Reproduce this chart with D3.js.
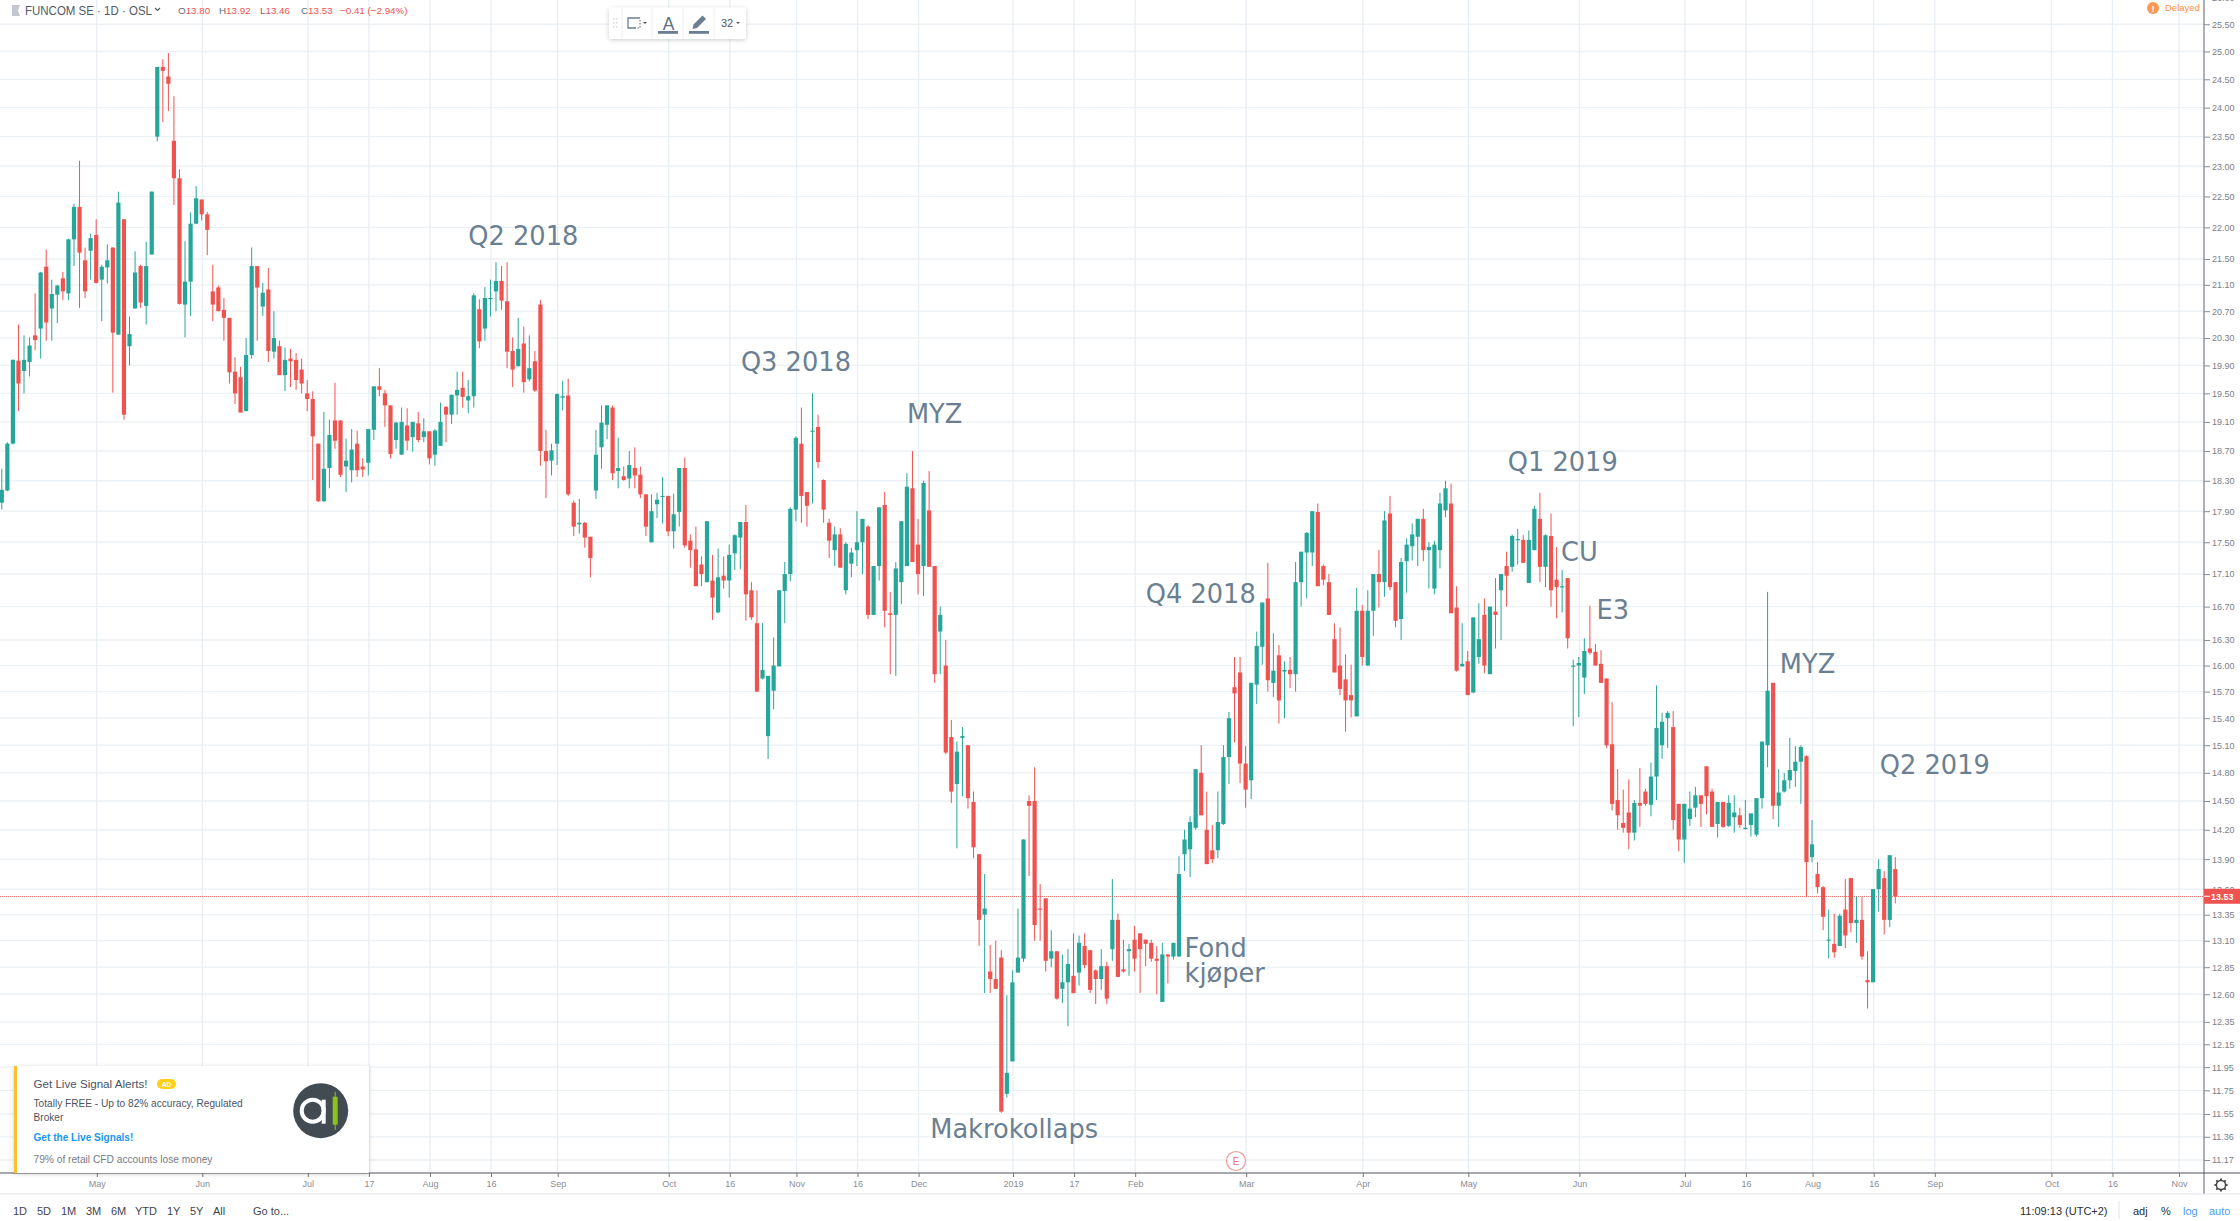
<!DOCTYPE html>
<html><head><meta charset="utf-8">
<script src="https://cdn.jsdelivr.net/npm/d3@7/dist/d3.min.js"></script>
<style>html,body{margin:0;padding:0;background:#fff;overflow:hidden}svg{display:block}</style></head>
<body><svg id="c" width="2240" height="1221"></svg>
<script>
const opens=[18.01,18.17,18.8,19.97,19.82,19.95,20.34,20.44,21.38,20.74,
20.95,21.2,20.97,21.81,22.33,21.48,21.63,21.88,21.18,21.37,
21.68,20.35,22.13,20.18,20.74,21.39,20.78,21.57,23.5,24.72,
24.55,23.43,22.8,20.8,21.15,22.06,22.45,22.21,21.0,21.06,
20.72,20.6,19.81,19.73,19.25,20.05,21.39,20.77,21.03,20.1,
20.18,19.76,20.0,19.98,19.84,19.5,19.42,18.8,18.03,18.47,
19.12,19.12,18.49,18.44,18.8,18.49,18.54,18.99,19.6,19.5,
19.33,18.85,18.65,19.05,18.89,19.08,18.89,18.97,18.65,18.77,
19.31,19.2,19.47,19.58,19.4,19.46,20.73,20.44,20.89,21.0,
21.16,20.85,20.11,19.89,20.22,19.7,19.96,20.8,18.7,18.57,
18.8,19.44,19.47,18.01,17.73,17.75,17.57,18.17,18.75,19.06,
19.3,18.43,18.36,18.33,18.47,18.38,18.12,17.5,17.99,18.09,
18.1,17.64,17.89,18.47,17.52,17.41,17.22,17.0,17.02,16.63,
17.08,17.02,17.36,17.56,17.76,16.9,16.5,15.85,15.2,15.71,
15.99,16.89,17.1,17.92,18.8,18.15,18.97,19.03,18.31,17.75,
17.4,17.6,16.9,17.23,17.4,17.5,17.7,16.6,17.2,17.98,
16.62,16.6,17.0,17.2,18.2,17.47,17.2,17.91,17.2,16.4,
16.0,15.19,14.68,15.18,15.1,14.49,13.95,13.35,12.81,12.74,
12.94,11.72,12.0,12.8,12.93,14.5,14.5,13.41,13.51,12.93,
13.0,12.65,12.71,12.77,12.8,13.05,13.01,12.82,12.74,12.86,
13.02,13.3,12.83,13.0,13.11,13.17,13.11,13.08,12.93,12.53,
12.97,12.95,12.95,13.95,14.0,14.22,14.8,14.2,13.99,13.99,
14.26,14.97,15.75,15.92,14.9,14.72,15.78,16.22,16.8,15.8,
16.12,15.93,15.95,15.9,17.0,17.37,17.37,17.89,17.2,17.0,
16.31,16.0,15.84,15.66,15.42,16.65,16.0,16.65,17.1,17.0,
17.87,17.0,16.55,17.26,17.45,17.57,17.8,17.4,16.92,17.4,
17.91,18.0,16.69,15.99,16.05,15.69,16.1,16.6,15.9,16.64,
16.9,17.2,17.19,17.53,17.53,16.99,17.4,17.8,17.19,17.58,
17.03,16.94,17.05,15.99,16.0,15.86,16.2,16.16,16.02,15.85,
15.11,14.51,14.27,14.38,14.17,14.48,14.6,14.46,14.76,15.1,
15.4,15.3,14.47,14.1,14.31,14.43,14.56,14.87,14.6,14.26,
14.49,14.24,14.33,14.35,14.21,14.25,14.15,14.53,15.1,15.8,
14.45,14.6,14.72,14.82,14.92,14.98,13.92,13.75,13.62,13.1,
13.07,13.05,13.4,13.71,13.27,13.3,12.73,12.71,13.6,13.71,13.3,13.8];
const closes=[18.18,18.8,19.98,19.64,19.98,20.19,20.27,21.29,20.53,20.96,
21.09,21.0,21.81,22.33,21.6,21.0,21.83,21.13,21.38,21.48,
20.38,22.4,19.2,20.36,21.29,20.83,21.39,22.58,24.72,24.65,
24.42,22.8,20.81,21.15,22.06,22.47,22.21,21.96,20.8,20.7,
20.6,19.8,19.5,19.23,20.05,21.39,21.06,20.98,20.11,20.3,
19.76,19.98,19.96,19.69,19.64,19.42,18.9,18.03,18.46,18.92,
18.84,18.38,18.57,18.72,18.44,18.45,19.0,19.6,19.55,19.33,
18.66,19.09,19.1,18.84,19.1,18.85,18.97,18.6,18.98,19.1,
19.2,19.48,19.55,19.45,19.46,20.94,20.25,20.9,20.9,21.16,
20.86,20.1,19.84,20.14,19.66,19.86,19.54,18.7,18.56,18.71,
19.49,19.46,18.12,17.7,17.75,17.56,17.3,18.65,19.09,19.33,
18.4,18.47,18.31,18.51,18.37,18.12,17.7,17.9,18.05,18.1,
17.64,17.86,18.47,17.46,17.4,16.95,17.1,17.77,16.81,17.06,
17.02,17.34,17.59,17.76,16.85,16.57,15.7,15.95,15.88,16.0,
16.9,17.1,17.93,18.88,18.1,17.97,18.98,18.55,17.92,17.52,
17.6,17.18,17.48,17.37,17.5,17.8,16.6,17.2,17.95,16.65,
16.6,17.17,17.77,18.22,17.25,17.1,18.27,17.19,15.9,16.6,
15.02,14.6,15.03,15.2,14.53,14.02,13.3,13.41,12.74,12.65,
11.57,11.9,12.71,12.94,14.1,14.45,13.25,13.4,12.91,13.0,
12.56,12.71,12.88,12.61,13.08,12.87,12.64,12.74,12.86,12.56,
13.3,12.76,12.81,13.02,12.93,13.02,13.07,12.93,12.91,12.97,
12.95,13.08,13.75,14.1,14.28,14.84,14.35,13.85,13.9,14.28,
14.97,15.4,15.68,14.9,14.62,15.8,16.23,16.75,15.83,15.94,
15.6,15.95,15.9,17.0,17.38,17.62,17.9,16.95,17.03,16.6,
15.92,15.73,15.6,15.6,16.65,16.1,16.65,17.1,17.0,17.78,
16.94,16.53,17.25,17.47,17.6,17.8,17.4,17.44,17.47,18.0,
18.2,16.62,15.94,16.02,15.66,16.57,16.31,16.0,16.7,16.6,
17.1,17.08,17.58,17.54,17.24,17.53,17.93,17.19,17.59,16.9,
16.94,16.95,16.32,16.0,16.03,16.17,16.15,16.0,15.8,15.1,
14.47,14.35,14.22,14.17,14.48,14.45,14.47,14.76,15.29,15.36,
15.46,14.3,14.1,14.47,14.42,14.56,14.47,14.55,14.23,14.49,
14.23,14.48,14.38,14.25,14.22,14.37,14.53,15.14,15.71,14.45,
14.59,14.72,14.83,14.92,15.08,13.87,14.05,13.62,13.33,13.11,
12.99,13.34,13.15,13.27,13.3,12.95,12.71,13.6,13.8,13.3,13.94,13.53];
const highs=[18.46,18.82,19.99,20.5,20.34,20.31,20.97,21.3,21.65,21.18,
21.1,21.3,21.82,22.38,23.09,21.68,21.9,22.13,21.41,21.73,
21.68,22.58,22.13,20.62,21.62,21.41,21.77,22.58,24.72,24.86,
24.97,24.2,22.95,21.78,22.24,22.67,22.45,22.25,21.41,21.09,
20.9,20.6,20.02,19.88,20.3,21.68,21.39,21.13,21.36,20.7,
20.26,20.16,20.14,20.08,20.0,19.69,19.53,18.8,19.24,19.13,
19.65,19.12,18.87,19.0,18.98,18.6,19.0,19.6,19.86,19.55,
19.33,19.1,19.3,19.29,19.1,19.24,19.15,18.97,19.0,19.37,
19.32,19.48,19.81,19.81,19.69,20.97,20.88,21.07,21.18,21.45,
21.39,21.45,20.31,20.6,20.47,20.34,20.11,20.87,18.99,18.8,
19.5,19.68,19.71,18.04,18.06,17.76,17.57,18.99,19.33,19.33,
19.33,18.88,18.49,18.7,18.75,18.49,18.12,18.12,18.14,18.35,
18.1,18.13,18.47,18.61,17.6,17.7,17.32,17.77,17.34,17.42,
17.32,17.47,17.6,17.76,17.98,17.0,16.9,16.5,15.88,16.33,
16.9,17.25,17.95,18.9,19.3,18.15,19.5,19.2,18.32,17.8,
17.7,17.68,17.5,17.43,17.9,17.8,17.72,17.2,17.95,18.15,
16.88,17.25,17.77,18.4,18.7,17.8,18.3,18.43,17.2,16.7,
16.3,15.38,15.14,15.3,15.1,14.6,13.95,13.75,13.06,13.1,
13.01,12.59,12.82,13.41,14.1,14.56,14.86,13.65,13.51,13.2,
13.0,12.97,13.02,13.17,13.15,13.17,13.01,12.83,13.02,12.9,
13.7,13.36,13.11,13.07,13.24,13.17,13.11,13.11,13.05,13.08,
12.97,13.08,13.93,14.2,14.34,14.84,15.1,14.6,14.25,14.6,
15.1,15.47,16.1,16.1,15.09,15.8,16.4,16.75,17.24,16.38,
16.24,16.05,16.1,17.25,17.38,17.63,17.9,18.0,17.22,17.1,
16.5,16.45,16.13,16.01,16.93,16.72,16.9,17.1,17.4,17.9,
18.1,17.0,17.3,17.55,17.74,17.8,17.93,17.5,17.52,18.14,
18.3,18.26,16.95,16.5,16.17,16.57,16.74,16.8,16.7,17.05,
17.1,17.38,17.6,17.67,17.59,17.65,17.97,18.14,17.6,17.87,
17.44,17.15,17.05,16.07,16.1,16.32,16.71,16.25,16.18,15.85,
15.58,14.84,14.62,14.73,14.51,14.85,14.63,14.91,15.77,15.46,
15.48,15.48,14.47,14.47,14.6,14.65,14.56,14.87,14.63,14.49,
14.49,14.56,14.56,14.43,14.51,14.37,14.53,15.14,16.88,15.8,
14.84,14.8,15.18,15.09,15.1,14.99,14.3,13.87,13.63,13.4,
13.36,13.36,13.7,13.71,13.53,13.52,13.0,13.6,13.9,13.78,13.94,13.92];
const lows=[17.92,18.16,18.79,19.25,19.5,19.74,20.12,20.0,20.26,20.26,
20.52,20.87,20.87,21.39,20.75,20.9,21.18,21.12,20.55,21.12,
19.51,20.35,19.13,19.9,20.74,20.75,20.5,21.57,23.42,23.75,
23.94,22.36,20.8,20.31,20.63,22.05,22.11,21.56,20.55,20.7,
20.26,19.64,19.35,19.23,19.25,20.0,20.26,20.63,19.95,20.0,
19.76,19.53,19.59,19.55,19.5,19.25,18.31,18.02,18.02,18.2,
18.73,18.35,18.15,18.28,18.35,18.35,18.37,18.85,19.46,19.03,
18.6,18.73,18.65,18.71,18.69,18.82,18.82,18.52,18.5,18.77,
18.82,19.07,19.2,19.3,19.22,19.3,20.15,20.26,20.62,20.7,
20.72,19.86,19.59,19.88,19.51,19.67,19.52,18.5,18.07,18.37,
18.51,19.26,18.1,17.58,17.61,17.43,17.06,18.06,18.46,18.86,
18.31,18.2,18.3,18.2,18.2,18.07,17.58,17.5,17.81,17.74,
17.58,17.42,17.7,17.43,17.18,16.95,16.95,17.0,16.54,16.62,
16.92,16.81,17.15,17.16,16.53,16.54,15.7,15.84,14.95,15.5,
15.99,16.5,17.01,17.77,17.75,17.7,18.0,18.47,17.75,17.3,
17.2,17.18,16.85,17.06,17.2,17.1,16.55,16.6,17.02,16.45,
15.9,15.88,16.73,17.2,17.25,16.85,16.83,17.19,15.8,15.9,
15.0,14.48,14.01,14.55,14.42,13.91,13.05,12.61,12.61,12.65,
11.56,11.69,12.0,12.8,12.9,13.73,13.1,13.1,12.81,12.85,
12.55,12.52,12.31,12.61,12.68,12.84,12.61,12.51,12.64,12.51,
12.91,12.76,12.8,12.77,12.81,12.61,12.86,12.9,12.6,12.53,
12.7,12.92,12.95,13.78,13.72,14.2,14.35,13.85,13.86,13.91,
14.25,14.68,15.13,14.69,14.43,14.52,15.56,16.01,15.7,15.64,
15.34,15.4,15.74,15.7,16.7,16.8,17.2,16.95,16.96,16.6,
15.92,15.66,15.25,15.41,15.42,16.0,16.0,16.35,16.69,16.82,
16.9,16.45,16.3,16.87,17.27,17.2,17.26,16.92,16.85,17.17,
17.82,16.62,15.93,15.99,15.66,15.68,16.02,15.91,15.9,16.2,
16.3,16.7,17.13,17.22,17.24,16.99,17.4,17.0,16.94,16.7,
16.56,16.63,16.2,15.31,15.41,15.67,16.13,16.0,15.8,15.07,
14.4,14.2,14.17,14.0,14.09,14.23,14.45,14.34,14.51,14.95,
15.07,14.2,13.98,13.86,14.24,14.33,14.23,14.36,14.23,14.12,
14.22,14.23,14.17,14.22,14.2,14.13,14.13,14.42,14.86,14.31,
14.23,14.59,14.63,14.65,14.47,13.52,13.87,13.56,13.2,12.93,
12.94,13.05,13.03,13.18,13.08,12.92,12.47,12.71,13.38,13.16,13.23,13.46];

const priceTicks=[26,25.5,25,24.5,24,23.5,23,22.5,22,21.5,21.1,20.7,20.3,19.9,19.5,19.1,18.7,18.3,17.9,17.5,17.1,16.7,16.3,16,15.7,15.4,15.1,14.8,14.5,14.2,13.9,13.6,13.35,13.1,12.85,12.6,12.35,12.15,11.95,11.75,11.55,11.36,11.17];
const timeBars=[17,36,55,66,77,88,100,120,131,143,154,165,182,193,204,224,245,264,284,303,314,326,337,348,369,380,392];
const timeLabels=["May","Jun","Jul","17","Aug","16","Sep","Oct","16","Nov","16","Dec","2019","17","Feb","Mar","Apr","May","Jun","Jul","16","Aug","16","Sep","Oct","16","Nov"];
const noteText=["Q2 2018","Q3 2018","MYZ","Q4 2018","Q1 2019","CU","E3","MYZ","Q2 2019","Fond","kjøper","Makrokollaps"];
const noteBar=[84,133.1,163,206,271.2,280.8,287.2,320.2,338.2,213,213,167.2];
const notePrice=[21.72,19.82,19.08,16.75,18.43,17.26,16.55,15.91,14.79,12.95,12.71,11.35];
const quote={o:13.80,h:13.92,l:13.46,c:13.53};
const rangeButtons=["1D","5D","1M","3M","6M","YTD","1Y","5Y","All"];
const rangeX=[13,37,61,86,111,135,167,190,213];

const GREEN="#26a69a",RED="#ef5350",GRID="#ecf1f5";
const R=2204,B=1173;
const svg=d3.select("#c");
const x=d3.scaleLinear().domain([0,341]).range([1.8,1895.3]);
const y=d3.scaleLog().domain([25,11.17]).range([51.5,1160]);
const data=opens.map((o,i)=>({i,o,h:highs[i],l:lows[i],c:closes[i]}));

const defs=svg.append("defs");
const sh=defs.append("filter").attr("id","sh").attr("x","-10%").attr("y","-20%").attr("width","120%").attr("height","140%");
sh.append("feDropShadow").attr("dx",0).attr("dy",1).attr("stdDeviation",2).attr("flood-color","#000").attr("flood-opacity",.2);
defs.append("clipPath").attr("id","plot").append("rect").attr("width",R).attr("height",B);

// grid
const g=svg.append("g").attr("clip-path","url(#plot)");
g.selectAll(".gh").data(priceTicks).join("line").attr("x1",0).attr("x2",R)
 .attr("y1",d=>y(d)).attr("y2",d=>y(d)).attr("stroke",GRID).attr("stroke-width",1.3);
g.selectAll(".gv").data(timeBars).join("line").attr("y1",0).attr("y2",B)
 .attr("x1",d=>x(d)+.6).attr("x2",d=>x(d)+.6).attr("stroke","#e8eff4").attr("stroke-width",1.3);

// last price line
g.append("line").attr("x1",0).attr("x2",R).attr("y1",896.5).attr("y2",896.5)
 .attr("stroke",RED).attr("stroke-width",1).attr("stroke-dasharray","1 1").attr("shape-rendering","crispEdges").attr("opacity",.8);

// candles
const col=d=>d.c>=d.o?GREEN:RED;
const candles=g.append("g");
candles.selectAll("line").data(data).join("line")
 .attr("x1",d=>x(d.i)).attr("x2",d=>x(d.i)).attr("y1",d=>y(d.h)).attr("y2",d=>y(d.l))
 .attr("stroke",col).attr("stroke-width",1);
candles.selectAll("rect").data(data).join("rect")
 .attr("x",d=>x(d.i)-2.1).attr("width",4.2)
 .attr("y",d=>y(Math.max(d.o,d.c)))
 .attr("height",d=>Math.max(1.2,y(Math.min(d.o,d.c))-y(Math.max(d.o,d.c))))
 .attr("fill",col);

// annotations
g.selectAll(".note").data(noteText).join("text")
 .attr("x",(d,i)=>x(noteBar[i])).attr("y",(d,i)=>y(notePrice[i]))
 .attr("font-family","DejaVu Sans").attr("font-size",25.7).attr("fill","#6b7f92").text(d=>d);

// earnings marker
const em=svg.append("g").attr("transform",`translate(1236,1161)`);
em.append("circle").attr("r",9.5).attr("fill","#fff").attr("stroke","#ef9a9a").attr("stroke-width",1.2);
em.append("text").attr("text-anchor","middle").attr("y",3.5).attr("font-family","Liberation Sans").attr("font-size",10).attr("fill","#e57373").text("E");

// axes
const ya=d3.axisRight(y).tickValues(priceTicks).tickSize(6).tickPadding(2).tickFormat(d3.format(".2f"));
const yg=svg.append("g").attr("transform",`translate(${R},0)`).call(ya);
yg.select(".domain").attr("stroke","#787b86").attr("stroke-width",1.2).attr("d",`M0,0V1194`);
yg.selectAll(".tick line").attr("stroke","#8a8d96");
yg.selectAll(".tick text").attr("font-family","Liberation Sans").attr("font-size",9).attr("fill","#7b7e88");

const xa=d3.axisBottom(x).tickValues(timeBars).tickSize(4).tickPadding(4).tickFormat((d,i)=>timeLabels[i]);
const xg=svg.append("g").attr("transform",`translate(0.6,${B})`).call(xa);
xg.select(".domain").attr("stroke","#50535e").attr("stroke-width",1).attr("d",`M-1,0H2240`);
xg.selectAll(".tick line").attr("stroke","#777");
xg.selectAll(".tick text").attr("font-family","Liberation Sans").attr("font-size",9).attr("fill","#8a8d96");

// last price tag
svg.append("rect").attr("x",R).attr("y",y(quote.c)-7.5).attr("width",36).attr("height",15).attr("fill",RED);
svg.append("line").attr("x1",R).attr("x2",R+6).attr("y1",y(quote.c)).attr("y2",y(quote.c)).attr("stroke","#fff");
svg.append("text").attr("x",R+7).attr("y",y(quote.c)+3.3).attr("font-family","Liberation Sans").attr("font-size",9).attr("font-weight",700).attr("fill","#fff").text(quote.c.toFixed(2));

// bottom bar
svg.append("rect").attr("x",0).attr("y",1195).attr("width",2240).attr("height",26).attr("fill","#fff");
svg.append("line").attr("x1",0).attr("x2",2240).attr("y1",1194).attr("y2",1194).attr("stroke","#e0e3eb");
const bt=(t,xx,c,w)=>svg.append("text").attr("x",xx).attr("y",1215).attr("font-family","Liberation Sans").attr("font-size",w||11).attr("fill",c||"#3f4450").text(t);
rangeButtons.forEach((t,i)=>bt(t,rangeX[i]));
bt("Go to...",253);
bt("11:09:13 (UTC+2)",2020,"#2a2e39",11);
svg.append("line").attr("x1",2119).attr("x2",2119).attr("y1",1201).attr("y2",1219).attr("stroke","#e0e3eb");
bt("adj",2133,"#2a2e39",11);bt("%",2161,"#2a2e39",11);bt("log",2183,"#4a9df0",11);bt("auto",2209,"#4a9df0",11);

// settings gear
const gear=svg.append("g").attr("transform","translate(2221,1185)");
gear.append("circle").attr("r",4.6).attr("fill","none").attr("stroke","#444").attr("stroke-width",1.5);
d3.range(8).forEach(k=>gear.append("line").attr("x1",0).attr("x2",0).attr("y1",-4.6).attr("y2",-6.6).attr("stroke","#444").attr("stroke-width",1.8).attr("transform",`rotate(${k*45})`));

// header
svg.append("path").attr("d","M12,5H20L18,10.5L20,16H12Z").attr("fill","#c5c7d0");
const hd=svg.append("g").attr("font-family","Liberation Sans");
hd.append("text").attr("x",25).attr("y",15).attr("font-size",13.5).attr("textLength",127).attr("lengthAdjust","spacingAndGlyphs").attr("fill","#555a66").text("FUNCOM SE · 1D · OSL");
hd.append("path").attr("d","M155,8l2.5,2.5l2.5,-2.5").attr("fill","none").attr("stroke","#555a66").attr("stroke-width",1.2);
const q=[["O",quote.o,178],["H",quote.h,219],["L",quote.l,260],["C",quote.c,301]];
q.forEach(([k,v,xx])=>{const t=hd.append("text").attr("x",xx).attr("y",14).attr("font-size",9.8).attr("fill","#666b78");
 t.append("tspan").text(k);t.append("tspan").attr("fill",RED).text(v.toFixed(2));});
hd.append("text").attr("x",340).attr("y",14).attr("font-size",9.8).attr("fill",RED).text("−0.41 (−2.94%)");

// delayed
svg.append("circle").attr("cx",2153).attr("cy",8).attr("r",6).attr("fill","#ff9850");
svg.append("text").attr("x",2153).attr("y",11.5).attr("text-anchor","middle").attr("font-family","Liberation Sans").attr("font-weight",700).attr("font-size",9.5).attr("fill","#fff").text("!");
svg.append("text").attr("x",2165).attr("y",11).attr("font-family","Liberation Sans").attr("font-size",9.5).attr("fill","#ff9040").text("Delayed");

// drawing toolbar
const tb=svg.append("g");
tb.append("rect").attr("x",609).attr("y",7.5).attr("width",137).attr("height",31.5).attr("rx",2).attr("fill","#fff").attr("filter","url(#sh)");
[622,652,683,714].forEach(xx=>tb.append("line").attr("x1",xx).attr("x2",xx).attr("y1",7.5).attr("y2",39).attr("stroke","#eef0f3"));
d3.range(3).forEach(r=>d3.range(2).forEach(c=>tb.append("rect").attr("x",613+c*3).attr("y",18+r*4).attr("width",1.5).attr("height",1.5).attr("fill","#d5d8de")));
tb.append("path").attr("d","M640,18H628V28H636").attr("fill","none").attr("stroke","#6b7f92").attr("stroke-width",1.3);
tb.append("path").attr("d","M640,20V28H637").attr("fill","none").attr("stroke","#6b7f92").attr("stroke-width",1.2).attr("stroke-dasharray","1.5 1.5");
tb.append("path").attr("d","M643,22l2,2l2,-2Z").attr("fill","#555");
tb.append("text").attr("x",668.5).attr("y",29.5).attr("text-anchor","middle").attr("font-family","Liberation Sans").attr("font-size",17.5).attr("fill","#5d7286").text("A");
tb.append("rect").attr("x",658).attr("y",31).attr("width",20).attr("height",2.8).attr("fill","#6a7f92");
tb.append("path").attr("d","M692.5,29l1,-4.5l9,-9l3.5,3.5l-9,9Z").attr("fill","#6a7f92");
tb.append("rect").attr("x",689).attr("y",31).attr("width",20).attr("height",2.8).attr("fill","#6a7f92");
tb.append("text").attr("x",721).attr("y",27.3).attr("font-family","Liberation Sans").attr("font-size",11).attr("fill","#555").text("32");
tb.append("path").attr("d","M736,22l2,2l2,-2Z").attr("fill","#555");

// ad card
const ad=svg.append("g").attr("font-family","Liberation Sans");
ad.append("rect").attr("x",14).attr("y",1066).attr("width",355).attr("height",107).attr("rx",1).attr("fill","#fff").attr("filter","url(#sh)");
ad.append("rect").attr("x",14).attr("y",1066).attr("width",3).attr("height",107).attr("fill","#fbc02d");
ad.append("text").attr("x",33.5).attr("y",1088).attr("font-size",11.6).attr("fill","#4c525e").text("Get Live Signal Alerts!");
ad.append("rect").attr("x",157).attr("y",1079).attr("width",19).attr("height",10).attr("rx",5).attr("fill","#fdd017");
ad.append("text").attr("x",166.5).attr("y",1087).attr("text-anchor","middle").attr("font-size",6.5).attr("font-weight",700).attr("fill","#fff").text("AD");
ad.append("text").attr("x",33.5).attr("y",1107).attr("font-size",10.15).attr("fill","#50535e").text("Totally FREE - Up to 82% accuracy, Regulated");
ad.append("text").attr("x",33.5).attr("y",1121).attr("font-size",10.15).attr("fill","#50535e").text("Broker");
ad.append("text").attr("x",33.5).attr("y",1141).attr("font-size",10.1).attr("font-weight",700).attr("fill","#2196f3").text("Get the Live Signals!");
ad.append("text").attr("x",33.5).attr("y",1163).attr("font-size",10.2).attr("fill","#787b86").text("79% of retail CFD accounts lose money");
const lg=ad.append("g").attr("transform","translate(320.7,1110.7)");
lg.append("circle").attr("r",27.5).attr("fill","#434b52");
lg.append("circle").attr("cx",-8).attr("r",11).attr("fill","none").attr("stroke","#fff").attr("stroke-width",4);
lg.append("rect").attr("x",1).attr("y",-11).attr("width",4).attr("height",24).attr("fill","#fff");
lg.append("rect").attr("x",14).attr("y",-19).attr("width",1).attr("height",38).attr("fill","#8cc220");
lg.append("rect").attr("x",12).attr("y",-14).attr("width",5).attr("height",28).attr("fill","#8cc220");
</script></body></html>
